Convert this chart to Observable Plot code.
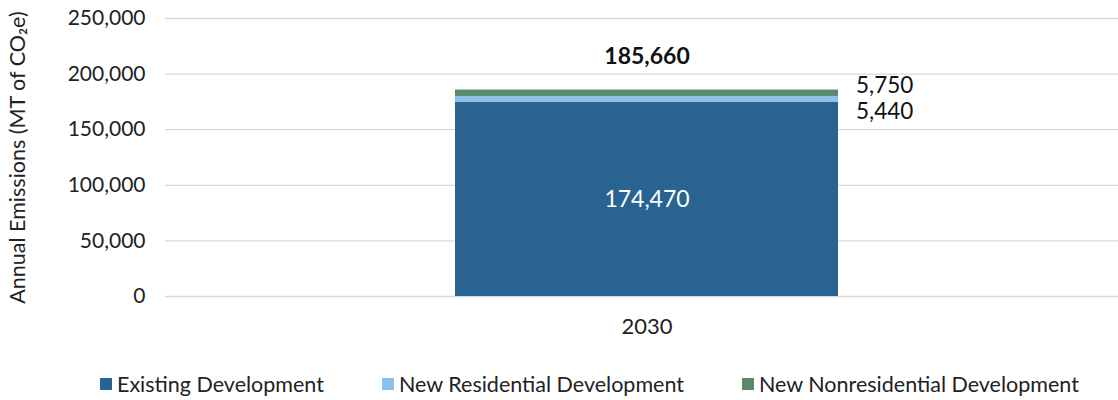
<!DOCTYPE html>
<html><head><meta charset="utf-8">
<script src="https://cdn.jsdelivr.net/npm/d3@7"></script>
<script src="https://cdn.jsdelivr.net/npm/@observablehq/plot@0.6"></script>
<style>
body{margin:0;background:#fff;font-family:Lato,"Open Sans",sans-serif;}
#legend{position:absolute;top:371px;left:100px;font-size:21.5px;color:#222;}
.item{display:flex;align-items:center;position:absolute;white-space:nowrap;}
.sw{width:12px;height:12px;margin-right:5px;}
</style></head><body>
<div id="chart"></div>
<div id="legend"></div>
<script>
const years = ["2030"];
const series = ["Existing Development","New Residential Development","New Nonresidential Development"];
const values = [174470, 5440, 5750];
const colors = ["#286391","#8ec0e8","#578a6c"];
const yTicks = [0,50000,100000,150000,200000,250000];
const legendX = [0, 282, 642];

const data = series.map((s,i)=>({year:years[0], series:s, value:values[i]}));
let cum=0;
const segs = data.map(d=>{const r={...d, y0:cum, y1:cum+d.value}; cum+=d.value; return r;});
const total = cum;
const fmt = d3.format(",");

const chart = Plot.plot({
  width:1118, height:355,
  marginLeft:165, marginRight:0, marginTop:18, marginBottom:59,
  style:{fontFamily:"Lato, 'Open Sans', sans-serif", fontSize:"20px", color:"#222", background:"#fff"},
  x:{domain:years, padding:0.4266, align:0.509, label:null},
  y:{domain:[0,250000], ticks:yTicks, tickFormat:fmt, label:null},
  color:{domain:series, range:colors},
  marks:[
    Plot.ruleY(yTicks,{stroke:"#d9d9d9", strokeWidth:1.3}),
    Plot.axisY(yTicks,{tickSize:0, tickPadding:20, tickFormat:fmt, fontSize:21, label:null}),
    Plot.axisX({tickSize:0, tickPadding:22, fontSize:22, label:null}),
    Plot.barY(segs,{x:"year", y1:"y0", y2:"y1", fill:"series"}),
    Plot.text([segs[0]],{x:"year", y:d=>(d.y0+d.y1)/2, text:d=>fmt(d.value), fill:"white", fontSize:23}),
    Plot.text([segs[2]],{x:"year", y:d=>d.y1, text:d=>fmt(d.value), dx:209, dy:-4, textAnchor:"start", fill:"#111", fontSize:22.5}),
    Plot.text([segs[1]],{x:"year", y:d=>(d.y0+d.y1)/2, text:d=>fmt(d.value), dx:209, dy:12, textAnchor:"start", fill:"#111", fontSize:22.5}),
    Plot.text([total],{x:()=>years[0], y:d=>d, text:d=>fmt(d), dy:-33, fontWeight:"bold", fill:"#111", fontSize:23}),
    Plot.text(["Annual Emissions (MT of CO₂e)"],{frameAnchor:"left", textAnchor:"middle", dx:-147, rotate:-90, fontSize:21.5, fill:"#222"})
  ]
});
document.getElementById("chart").append(chart);

const lg = document.getElementById("legend");
series.forEach((s,i)=>{
  const it=document.createElement("div"); it.className="item"; it.style.left=legendX[i]+"px";
  const sw=document.createElement("span"); sw.className="sw"; sw.style.background=colors[i];
  const t=document.createElement("span"); t.textContent=s;
  it.append(sw,t); lg.append(it);
});
</script>
</body></html>
